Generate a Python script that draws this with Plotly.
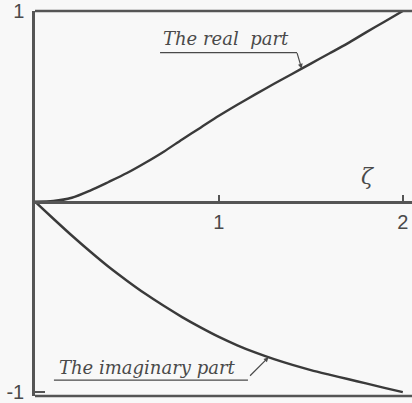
import numpy as np
import plotly.graph_objects as go

# Sample points along zeta and the two parts of the function
zeta = [0.0, 0.1, 0.2, 0.3, 0.4, 0.5, 0.6, 0.7, 0.8, 0.9, 1.0,
        1.1, 1.2, 1.3, 1.4, 1.5, 1.6, 1.7, 1.8, 1.9, 2.0]
real_part = [0.0, 0.003, 0.02, 0.058, 0.103, 0.15, 0.204, 0.262, 0.326, 0.388, 0.45,
             0.508, 0.564, 0.618, 0.671, 0.724, 0.777, 0.83, 0.888, 0.944, 1.0]
imag_part = [0.0, -0.09, -0.178, -0.262, -0.342, -0.415, -0.484, -0.547, -0.606, -0.66, -0.71,
             -0.754, -0.793, -0.827, -0.857, -0.884, -0.908, -0.931, -0.954, -0.977, -1.0]

x_ticks = [1, 2]
x_tick_text = ["1", "2"]
y_ticks = [-1, 1]
y_tick_text = ["-1", "1"]

line_col = "#3a3a3a"
frame_col = "#555555"
text_col = "#4a4a4a"
serif = "DejaVu Serif, Liberation Serif, serif"
sans = "Liberation Sans, Arial, sans-serif"

fig = go.Figure()
fig.add_trace(go.Scatter(x=zeta, y=real_part, mode="lines",
                         line=dict(color=line_col, width=2.4, shape="spline", smoothing=0.8),
                         hoverinfo="skip"))
fig.add_trace(go.Scatter(x=zeta, y=imag_part, mode="lines",
                         line=dict(color=line_col, width=2.4, shape="spline", smoothing=0.8),
                         hoverinfo="skip"))

# top and bottom frame lines
for yv in (0, 1):
    fig.add_shape(type="line", xref="paper", yref="paper", x0=0, x1=1, y0=yv, y1=yv,
                  line=dict(color=frame_col, width=2.5))

# label underlines
fig.add_shape(type="line", x0=0.68, x1=1.425, y0=0.782, y1=0.782,
              line=dict(color=text_col, width=1.2))
fig.add_shape(type="line", x0=0.103, x1=1.158, y0=-0.937, y1=-0.937,
              line=dict(color=text_col, width=1.2))

# labels with leader arrows pointing at the curves
fig.add_annotation(x=1.039, y=0.858, text="<i>The real  part</i>", showarrow=False,
                   font=dict(family=serif, size=18, color=text_col))
fig.add_annotation(x=0.609, y=-0.872, text="<i>The imaginary part</i>", showarrow=False,
                   font=dict(family=serif, size=18, color=text_col))

za = 1.45
fig.add_annotation(x=za, y=float(np.interp(za, zeta, real_part)), ax=-5, ay=-17,
                   text="", showarrow=True, arrowhead=2, arrowsize=0.8, arrowwidth=1.2,
                   arrowcolor=text_col)
zb = 1.27
fig.add_annotation(x=zb, y=float(np.interp(zb, zeta, imag_part)), ax=-20, ay=20,
                   text="", showarrow=True, arrowhead=2, arrowsize=0.8, arrowwidth=1.2,
                   arrowcolor=text_col)

# axis variable
fig.add_annotation(x=1.81, y=0.13, text="<i>ζ</i>", showarrow=False,
                   font=dict(family=serif, size=22, color=text_col))

y_min, y_max = -1.02, 1.0
zero_pos = (0 - y_min) / (y_max - y_min)

fig.update_layout(
    width=412, height=403,
    margin=dict(l=35, r=0, t=10, b=4),
    paper_bgcolor="#f8f8f8", plot_bgcolor="#f8f8f8",
    showlegend=False,
    xaxis=dict(range=[0, 2.05], anchor="free", position=zero_pos,
               showline=True, linecolor=frame_col, linewidth=2.5,
               tickvals=x_ticks, ticktext=x_tick_text, ticks="inside", ticklen=6,
               tickcolor=frame_col, tickwidth=1.5, ticklabeloverflow="allow",
               ticklabelstandoff=2,
               tickfont=dict(family=sans, size=20, color=text_col),
               showgrid=False, zeroline=False),
    yaxis=dict(range=[y_min, y_max],
               showline=True, linecolor=frame_col, linewidth=2.5,
               tickvals=y_ticks, ticktext=y_tick_text, ticks="inside", ticklen=10,
               tickcolor=frame_col, tickwidth=1.5, ticklabeloverflow="allow",
               ticklabelstandoff=4,
               tickfont=dict(family=sans, size=20, color=text_col),
               showgrid=False, zeroline=False),
)

fig.write_html("out.html")
